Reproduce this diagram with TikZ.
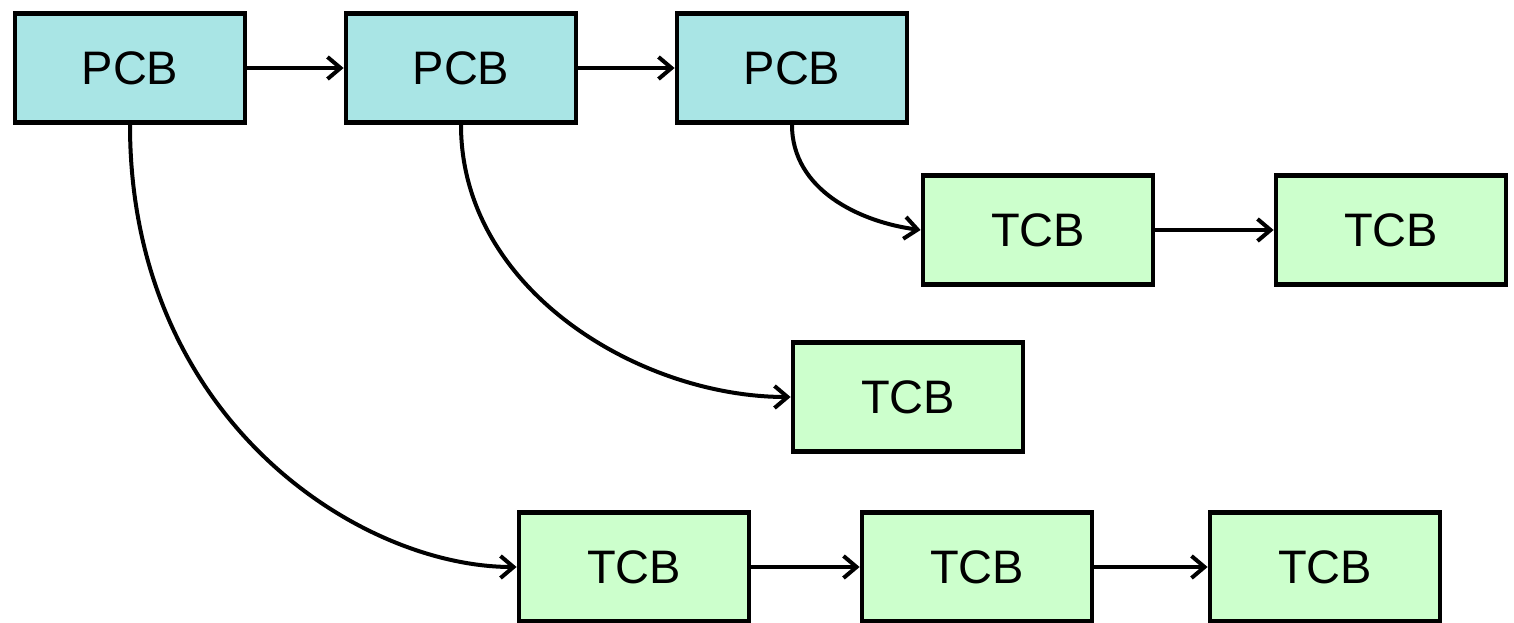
\documentclass[tikz,border=0pt]{standalone}
\usepackage{fontspec}
\setmainfont{Liberation Sans}
\usetikzlibrary{arrows.meta,shadows}
\definecolor{pcbfill}{HTML}{A9E5E5}
\definecolor{tcbfill}{HTML}{CCFFCC}
\begin{document}
\begin{tikzpicture}[x=1pt,y=-1pt,
  box/.style={draw=black, line width=4.8pt, minimum width=230pt, minimum height=109pt,
    inner sep=0pt, font=\fontsize{47}{50}\selectfont,
    drop shadow={shadow xshift=1.5pt, shadow yshift=-1.5pt, opacity=0.25}},
  pcb/.style={box, fill=pcbfill},
  tcb/.style={box, fill=tcbfill},
  conn/.style={line width=4pt, -{Straight Barb[length=13pt,width=22pt,line width=4pt]}}]
\useasboundingbox (0,0) rectangle (1514,623);
\node[pcb] (p1) at (130,68) {PCB};
\node[pcb] (p2) at (461,68) {PCB};
\node[pcb] (p3) at (792,68) {PCB};
\node[tcb] (t1) at (1038,230) {TCB};
\node[tcb] (t2) at (1391,230) {TCB};
\node[tcb] (t3) at (908,397) {TCB};
\node[tcb] (t4) at (634,567) {TCB};
\node[tcb] (t5) at (977,567) {TCB};
\node[tcb] (t6) at (1325,567) {TCB};
\draw[conn] (p1) -- (p2);
\draw[conn] (p2) -- (p3);
\draw[conn] (t1) -- (t2);
\draw[conn] (t4) -- (t5);
\draw[conn] (t5) -- (t6);
\draw[conn] (p3.south) .. controls (792,190) and (860,222) .. (t1.west);
\draw[conn] (p2.south) .. controls (461,290) and (640,397) .. (t3.west);
\draw[conn] (p1.south) .. controls (130,420) and (360,567) .. (t4.west);
\end{tikzpicture}
\end{document}
